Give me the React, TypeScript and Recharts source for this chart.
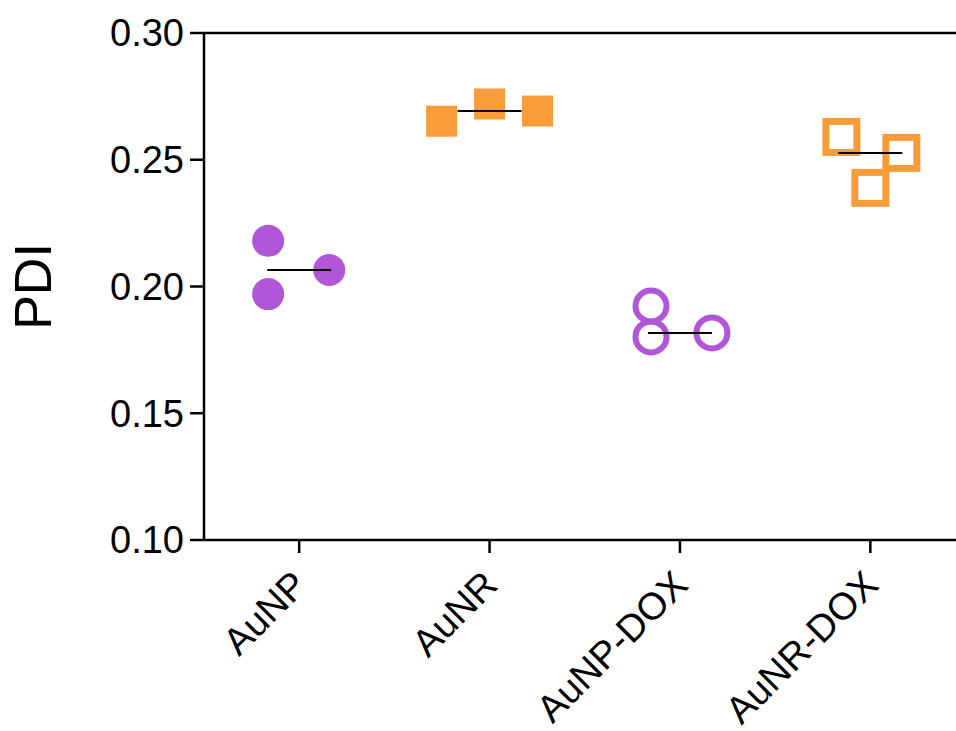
import { ScatterChart, Scatter, XAxis, YAxis, ReferenceLine } from 'recharts';

const CATEGORIES = ['AuNP', 'AuNR', 'AuNP-DOX', 'AuNR-DOX'];
const Y_TICKS = [0.1, 0.15, 0.2, 0.25, 0.3];

// PDI replicates per group
const AUNP = [0.218, 0.197, 0.2065];
const AUNR = [0.2652, 0.272, 0.2692];
const AUNP_DOX = [0.1923, 0.1801, 0.1817];
const AUNR_DOX = [0.259, 0.2527, 0.2389];

// horizontal spread of the replicates, in category units
const JITTER_AUNP = [-0.163, -0.163, 0.158];
const JITTER_AUNR = [-0.252, 0, 0.252];
const JITTER_AUNP_DOX = [-0.152, -0.152, 0.168];
const JITTER_AUNR_DOX = [-0.152, 0.163, 0];

const PURPLE = '#B256D8';
const ORANGE = '#F89C3A';
const FONT = '"Liberation Sans", Arial, sans-serif';
const HALF = 0.168;

const toPoints = (cat: number, values: number[], jitter: number[]) =>
  values.map((v, i) => ({ x: cat + jitter[i], y: v }));

const median = (values: number[]) => {
  const s = [...values].sort((a, b) => a - b);
  return s[Math.floor(s.length / 2)];
};

const groups = [AUNP, AUNR, AUNP_DOX, AUNR_DOX];

const FilledCircle = (p: any) => <circle cx={p.cx} cy={p.cy} r={16} fill={PURPLE} />;
const FilledSquare = (p: any) => (
  <rect x={p.cx - 15.5} y={p.cy - 15.5} width={31} height={31} fill={ORANGE} />
);
const OpenCircle = (p: any) => (
  <circle cx={p.cx} cy={p.cy} r={15.5} fill="none" stroke={PURPLE} strokeWidth={6} />
);
const OpenSquare = (p: any) => (
  <rect x={p.cx - 15.5} y={p.cy - 15.5} width={31} height={31} fill="none" stroke={ORANGE} strokeWidth={7} />
);
const NoMark = () => <g />;

const XTick = ({ x, y, payload }: any) => (
  <g transform={`translate(${x},${y})`}>
    <text
      x={10}
      y={34}
      textAnchor="end"
      transform="rotate(-45, 10, 34)"
      fontSize={38}
      fontFamily={FONT}
      fill="#000"
    >
      {CATEGORIES[payload.value]}
    </text>
  </g>
);

export default function App() {
  return (
    <div style={{ position: 'absolute', left: 0, top: 0, background: '#fff' }}>
      <ScatterChart width={956} height={731} margin={{ top: 33, right: 0, bottom: 0, left: 0 }}>
        <XAxis
          type="number"
          dataKey="x"
          domain={[-0.5, 3.45]}
          ticks={[0, 1, 2, 3]}
          allowDataOverflow
          height={191}
          tickSize={13}
          tickMargin={0}
          axisLine={{ stroke: '#000', strokeWidth: 2.5 }}
          tickLine={{ stroke: '#000', strokeWidth: 2.5 }}
          tick={<XTick />}
          interval={0}
        />
        <YAxis
          type="number"
          dataKey="y"
          domain={[0.1, 0.3]}
          ticks={Y_TICKS}
          width={204}
          tickSize={14}
          tickMargin={6}
          tickFormatter={(v: number) => v.toFixed(2)}
          axisLine={{ stroke: '#000', strokeWidth: 2.5 }}
          tickLine={{ stroke: '#000', strokeWidth: 2.5 }}
          tick={{ fill: '#000', fontSize: 38, fontFamily: FONT }}
          label={{
            value: 'PDI',
            angle: -90,
            position: 'center',
            dx: -69,
            style: { fill: '#000', fontSize: 52, fontFamily: FONT },
          }}
        />
        <ReferenceLine y={0.3} stroke="#000" strokeWidth={2.5} />
        <Scatter data={toPoints(0, AUNP, JITTER_AUNP)} shape={FilledCircle} isAnimationActive={false} />
        <Scatter data={toPoints(1, AUNR, JITTER_AUNR)} shape={FilledSquare} isAnimationActive={false} />
        <Scatter data={toPoints(2, AUNP_DOX, JITTER_AUNP_DOX)} shape={OpenCircle} isAnimationActive={false} />
        <Scatter data={toPoints(3, AUNR_DOX, JITTER_AUNR_DOX)} shape={OpenSquare} isAnimationActive={false} />
        {groups.map((values, i) => (
          <Scatter
            key={i}
            data={[
              { x: i - HALF, y: median(values) },
              { x: i + HALF, y: median(values) },
            ]}
            line={{ stroke: '#000', strokeWidth: 2 }}
            shape={NoMark}
            isAnimationActive={false}
          />
        ))}
      </ScatterChart>
    </div>
  );
}
